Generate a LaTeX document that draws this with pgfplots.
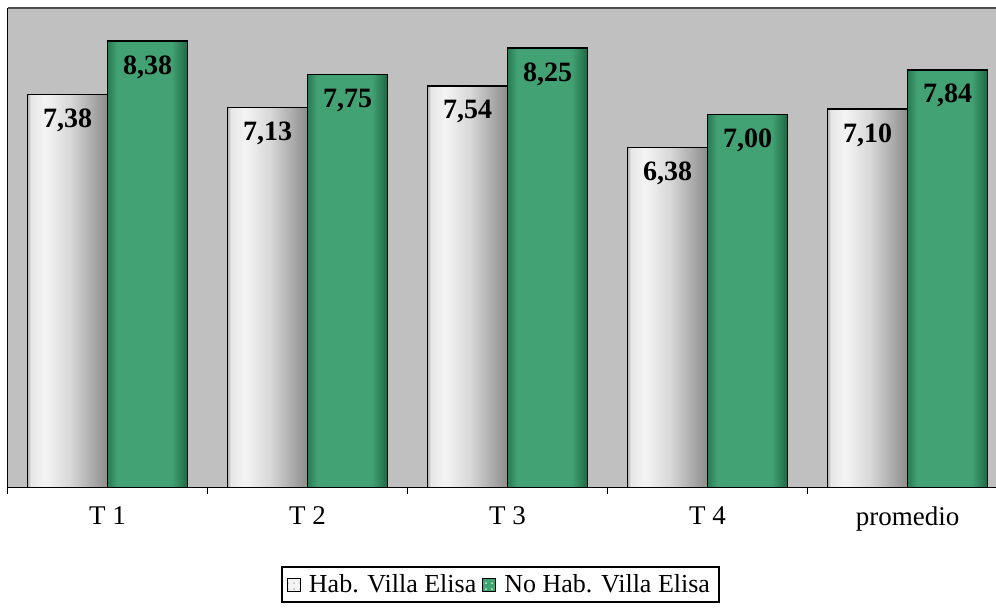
\documentclass[border=0pt]{standalone}
\usepackage{fontspec}
\setmainfont{Liberation Serif}
\usepackage{pgfplots}
\pgfplotsset{compat=1.18}
\usetikzlibrary{patterns}

\definecolor{bgsilver}{RGB}{192,192,192}
\definecolor{wA}{RGB}{175,175,175}
\definecolor{wB}{RGB}{244,244,244}
\definecolor{wC}{RGB}{215,215,215}
\definecolor{wD}{RGB}{140,140,140}
\definecolor{gA}{RGB}{40,122,84}
\definecolor{gB}{RGB}{66,162,115}
\definecolor{gC}{RGB}{32,104,70}

\pgfdeclarehorizontalshading{whitebar}{100bp}{color(0bp)=(wA); color(25bp)=(wA); color(27bp)=(wB!80!wA); color(36bp)=(wB); color(52bp)=(wC); color(75bp)=(wD); color(100bp)=(wD)}
\pgfdeclarehorizontalshading{greenbar}{100bp}{color(0bp)=(gA); color(25bp)=(gA); color(31bp)=(gB); color(65bp)=(gB); color(75bp)=(gC); color(100bp)=(gC)}

\pgfplotsset{
  wbar/.style={draw=black, line width=0.75pt, shade, shading=whitebar,
    postaction={pattern=dots, pattern color=gray!55}, forget plot, bar shift=-0.2},
  gbar/.style={draw=black, line width=0.75pt, shade, shading=greenbar,
    postaction={pattern=dots, pattern color=white!75!green}, forget plot, bar shift=0.2},
}

\begin{document}
\begin{tikzpicture}
\begin{axis}[
  scale only axis, width=494.25pt, height=239.65pt,
  ymin=0, ymax=9, xmin=-0.5, xmax=4.4425,
  ybar=0pt, bar width=0.4,
  clip=false,
  axis background/.style={fill=bgsilver},
  axis x line*=bottom, axis y line*=left,
  axis line style={-, black, line width=0.7pt},
  ytick=\empty,
  xtick={0,1,2,3,4}, xticklabels={T 1,T 2,T 3,T 4,promedio},
  major tick length=0pt,
  extra x ticks={-0.5,0.5,1.5,2.5,3.5}, extra x tick labels={},
  extra x tick style={major tick length=3.5pt, tick align=outside, major tick style={black, line width=0.6pt}},
  tick label style={font=\fontsize{13.5}{16}\selectfont},
  xticklabel style={yshift=-6pt},
  nodes near coords={\pgfmathprintnumber[fixed,fixed zerofill,precision=2,use comma,assume math mode=true]{\pgfplotspointmeta}},
  every node near coord/.append style={font=\bfseries\fontsize{14}{15}\selectfont, anchor=north, yshift=-3.5pt, black},
  legend style={at={(0.4987,-0.2028)}, anchor=center, draw=black, line width=0.6pt,
    legend columns=2, font=\fontsize{13}{16}\selectfont,
    /tikz/every even column/.append style={column sep=1pt},
    inner xsep=2.5pt, inner ysep=1.5pt},
  legend image code/.code={\draw[#1, line width=0.5pt] (0pt,-3.25pt) rectangle (6.5pt,3.25pt);},
]
\addplot[wbar] coordinates {(0,7.38)};
\addplot[wbar] coordinates {(1,7.13)};
\addplot[wbar] coordinates {(2,7.54)};
\addplot[wbar] coordinates {(3,6.38)};
\addplot[wbar] coordinates {(4,7.10)};
\addplot[gbar] coordinates {(0,8.38)};
\addplot[gbar] coordinates {(1,7.75)};
\addplot[gbar] coordinates {(2,8.25)};
\addplot[gbar] coordinates {(3,7.00)};
\addplot[gbar] coordinates {(4,7.84)};
\addlegendimage{draw=black, fill=wB, postaction={pattern=dots, pattern color=gray!55}}
\addlegendentry{\hspace{2pt}Hab. Villa Elisa}
\addlegendimage{draw=black, fill=gB, postaction={pattern=dots, pattern color=white!75!green}}
\addlegendentry{\hspace{2pt}No Hab. Villa Elisa}
\draw[gray!60!black, line width=0.6pt] (rel axis cs:0,1) -- (rel axis cs:1,1);
\end{axis}
\pgfresetboundingbox
\path[use as bounding box] (-3.75pt,-59.85pt) rectangle (494.25pt,243.65pt);
\end{tikzpicture}
\end{document}
